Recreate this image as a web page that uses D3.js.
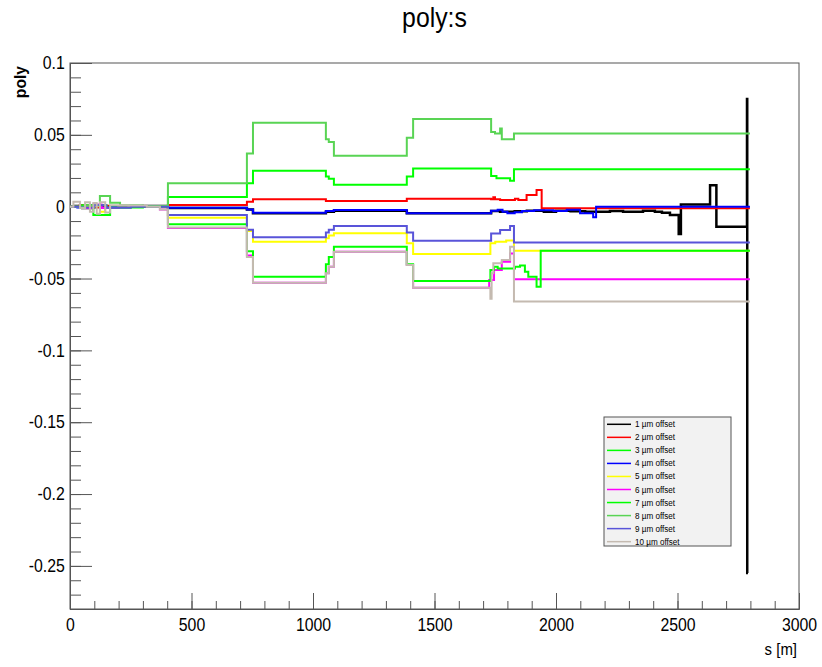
<!DOCTYPE html>
<html><head><meta charset="utf-8">
<script src="https://cdn.jsdelivr.net/npm/d3@7"></script>
<style>
html,body{margin:0;padding:0;background:#fff;}
svg{display:block;font-family:"Liberation Sans",Arial,Helvetica,sans-serif;}
</style></head>
<body>
<svg id="c" width="822" height="667"></svg>
<script>
// ---------- data (s [m], poly) breakpoints, step-after ----------
const seriesNames = ["1 \u00b5m offset","2 \u00b5m offset","3 \u00b5m offset","4 \u00b5m offset","5 \u00b5m offset",
                     "6 \u00b5m offset","7 \u00b5m offset","8 \u00b5m offset","9 \u00b5m offset","10 \u00b5m offset"];
const seriesColors = ["#000000","#ff0000","#00ff00","#0000ff","#ffff00","#ff00ff","#00ff00","#59d454","#5954d9","#c4bab0"];

const off1 = [[0,0],[20,0.0005],[50,-0.001],[90,0.001],[130,-0.0005],[200,0],[300,0.0005],[403,-0.001],[728,-0.002],[753,-0.0045],[1053,-0.0035],[1086,-0.0028],[1386,-0.0046],[1733,-0.003],[1770,-0.0035],[1830,-0.0032],[1880,-0.0028],[1950,-0.0035],[2000,-0.0028],[2060,-0.0032],[2120,-0.0035],[2181,-0.0035],[2222,-0.003],[2276,-0.0035],[2358,-0.0028],[2407,-0.0035],[2436,-0.0042],[2469,-0.0058],[2505,-0.019],[2514,0.0015],[2634,0.015],[2660,-0.014],[2786,0.075],[2787,-0.255],[2790,-0.255]];
const off2 = [[0,0],[40,0.001],[70,-0.0005],[130,0.0007],[160,0],[250,0.0005],[403,0.0012],[728,0.0035],[753,0.0051],[1053,0.004],[1386,0.0056],[1733,0.0051],[1742,0.0065],[1749,0.0051],[1770,0.0047],[1831,0.0056],[1845,0.0047],[1879,0.0081],[1920,0.0116],[1941,-0.0011],[2798,-0.0011]];
const off3 = [[0,0],[50,-0.001],[100,0.001],[150,-0.0005],[250,0.0003],[403,0.0068],[728,0.0163],[753,0.025],[1053,0.021],[1065,0.0195],[1086,0.0153],[1386,0.021],[1412,0.0265],[1733,0.0214],[1755,0.0198],[1811,0.018],[1827,0.026],[2798,0.026]];
const off4 = [[0,0],[30,-0.0005],[90,0.0008],[123,-0.0007],[165,0.0003],[250,0],[403,-0.0007],[728,-0.002],[753,-0.0042],[1053,-0.003],[1086,-0.0023],[1386,-0.0046],[1733,-0.0028],[1760,-0.0022],[1780,-0.0035],[1800,-0.0045],[1830,-0.0038],[1860,-0.003],[1910,-0.0025],[1990,-0.003],[2044,-0.0022],[2099,-0.0046],[2153,-0.0074],[2165,0.0],[2798,0.0]];
const off5 = [[0,0],[60,0.0005],[123,-0.0035],[145,-0.001],[200,0],[403,-0.0077],[728,-0.017],[753,-0.0244],[1053,-0.022],[1065,-0.02],[1086,-0.0185],[1386,-0.0255],[1412,-0.033],[1730,-0.0255],[1750,-0.0244],[1795,-0.0235],[1827,-0.0306],[2798,-0.0306]];
const off6 = [[0,0],[60,-0.001],[96,0.0015],[130,-0.001],[200,0],[370,-0.002],[403,-0.0148],[728,-0.034],[753,-0.0529],[1053,-0.0464],[1065,-0.0418],[1086,-0.0313],[1386,-0.0406],[1412,-0.0564],[1725,-0.051],[1745,-0.044],[1777,-0.0383],[1811,-0.0325],[1827,-0.0505],[2798,-0.0505]];
const off7 = [[0,0],[50,0.001],[96,-0.0058],[165,-0.0005],[300,0],[403,-0.0123],[728,-0.031],[753,-0.0487],[1053,-0.04],[1065,-0.035],[1086,-0.0278],[1386,-0.04],[1412,-0.0517],[1730,-0.0441],[1745,-0.0418],[1760,-0.043],[1831,-0.0418],[1852,-0.041],[1872,-0.0452],[1886,-0.0487],[1920,-0.0557],[1937,-0.0306],[2798,-0.0306]];
const off8 = [[0,0],[60,0.001],[123,0.0075],[165,0.0028],[206,0.001],[300,0.0005],[403,0.0163],[728,0.037],[753,0.0585],[1053,0.047],[1065,0.045],[1086,0.0355],[1386,0.048],[1412,0.061],[1733,0.052],[1749,0.051],[1770,0.0545],[1777,0.047],[1827,0.051],[2798,0.051]];
const off9 = [[0,0],[40,-0.0005],[100,0.001],[150,-0.0008],[250,0],[403,-0.0058],[728,-0.016],[753,-0.0213],[1053,-0.018],[1065,-0.016],[1086,-0.0134],[1386,-0.018],[1412,-0.0237],[1733,-0.0186],[1770,-0.0162],[1811,-0.0134],[1827,-0.025],[2798,-0.025]];
const off10 = [[0,0],[14,0.0035],[41,-0.001],[62,0.003],[82,-0.0035],[96,0.0025],[110,-0.005],[123,0.003],[145,-0.004],[165,0.001],[240,0.0008],[316,0],[370,-0.002],[403,-0.0144],[728,-0.035],[753,-0.0529],[1053,-0.0464],[1065,-0.0418],[1086,-0.0313],[1386,-0.0406],[1412,-0.0564],[1730,-0.064],[1735,-0.0464],[1742,-0.0394],[1777,-0.0371],[1811,-0.0278],[1827,-0.066],[2798,-0.066]];
const allSeries = [off1,off2,off3,off4,off5,off6,off7,off8,off9,off10];

const xMajorTicks = [0,500,1000,1500,2000,2500,3000];
const yMajorTicks = [0.1,0.05,0,-0.05,-0.1,-0.15,-0.2,-0.25];
const yTickLabels = ["0.1","0.05","0","-0.05","-0.1","-0.15","-0.2","-0.25"];

// ---------- layout ----------
const L = 70, R = 799, T = 63, B = 609;
const NARROW = "scale(0.88,1)";
const svg = d3.select("#c");
const x = d3.scaleLinear().domain([0,3000]).range([L,R]);
const y = d3.scaleLinear().domain([-0.28,0.1]).range([B,T]);

svg.append("defs").append("clipPath").attr("id","clip")
  .append("rect").attr("x",L).attr("y",T).attr("width",R-L).attr("height",B-T);

// frame
svg.append("rect").attr("x",L).attr("y",T).attr("width",R-L).attr("height",B-T)
  .attr("fill","none").attr("stroke","#555").attr("stroke-width",1);

// axes
const xMinor = d3.range(0,3001,100);
const yMinor = d3.range(-28,11,1).map(v=>v/100);
const gx = svg.append("g").attr("transform",`translate(0,${B})`);
gx.call(d3.axisBottom(x).tickValues(xMinor).tickSizeInner(-8).tickSizeOuter(0).tickFormat(""));
gx.append("g").call(d3.axisBottom(x).tickValues(xMajorTicks).tickSizeInner(-16).tickSizeOuter(0).tickPadding(9).tickFormat(d3.format("d")));
gx.selectAll(".domain").attr("stroke","#555");
gx.selectAll(".tick line").attr("stroke","#555");
gx.selectAll("text").attr("font-size",18).attr("fill","#000").attr("font-family","Liberation Sans, Arial, sans-serif")
  .attr("transform",NARROW);

const gy = svg.append("g").attr("transform",`translate(${L},0)`);
gy.call(d3.axisLeft(y).tickValues(yMinor).tickSizeInner(-11).tickSizeOuter(0).tickFormat(""));
gy.append("g").call(d3.axisLeft(y).tickValues(yMajorTicks).tickSizeInner(-22).tickSizeOuter(0).tickPadding(6)
  .tickFormat((d,i)=>yTickLabels[i]));
gy.selectAll(".domain").attr("stroke","#555");
gy.selectAll(".tick line").attr("stroke","#555");
gy.selectAll("text").attr("font-size",18).attr("fill","#000").attr("font-family","Liberation Sans, Arial, sans-serif")
  .attr("transform",NARROW);

// series
const line = d3.line().x(d=>x(d[0])).y(d=>y(d[1])).curve(d3.curveStepAfter);
const gl = svg.append("g").attr("clip-path","url(#clip)");
allSeries.forEach((s,i)=>{
  gl.append("path").attr("d",line(s)).attr("fill","none")
    .attr("stroke",seriesColors[i]).attr("stroke-width", i===0 ? 2.5 : 2)
    .attr("stroke-linejoin","miter");
});

// titles
svg.append("text").attr("transform",`translate(${(L+R)/2},27) scale(0.92,1)`).attr("text-anchor","middle")
  .attr("font-size",27).text("poly:s");
svg.append("text").attr("transform","translate(26,66) rotate(-90) scale(0.92,1)").attr("text-anchor","end")
  .attr("font-size",17).attr("font-weight","bold").text("poly");
svg.append("text").attr("transform","translate(797,655) scale(0.88,1)").attr("text-anchor","end")
  .attr("font-size",17).text("s [m]");

// legend
const lg = svg.append("g");
lg.append("rect").attr("x",604).attr("y",417).attr("width",127).attr("height",129)
  .attr("fill","#f2f2f2").attr("stroke","#555").attr("stroke-width",1);
seriesNames.forEach((n,i)=>{
  const yy = 424.3 + i*13.04;
  lg.append("line").attr("x1",607).attr("x2",631).attr("y1",yy).attr("y2",yy)
    .attr("stroke",seriesColors[i]).attr("stroke-width",1.5);
  lg.append("text").attr("transform",`translate(635,${yy+3}) scale(0.9,1)`).attr("font-size",9).text(n);
});
</script>
</body></html>
